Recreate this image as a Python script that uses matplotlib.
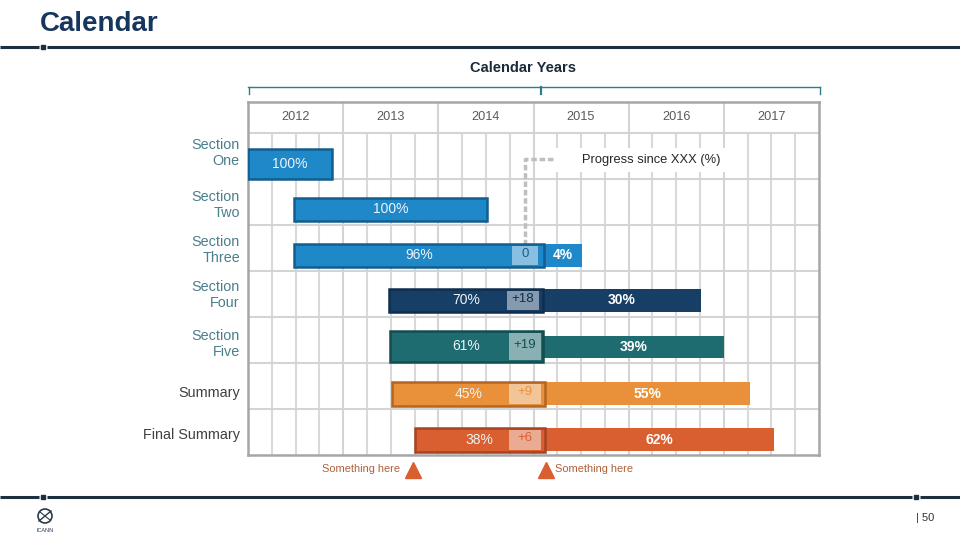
import matplotlib.pyplot as plt
from matplotlib.patches import Rectangle, Circle

plt.rcParams['font.family'] = ['Liberation Sans', 'DejaVu Sans']

# data
rows = ['Section\nOne', 'Section\nTwo', 'Section\nThree', 'Section\nFour',
        'Section\nFive', 'Summary', 'Final Summary']
years = [2012, 2013, 2014, 2015, 2016, 2017]
start = [2012.0, 2012.48, 2012.48, 2013.48, 2013.49, 2013.51, 2013.75]
done_end = [2012.88, 2014.51, 2015.11, 2015.10, 2015.10, 2015.12, 2015.12]
done_pct = [100, 100, 96, 70, 61, 45, 38]
gain = [None, None, 0, 18, 19, 9, 6]
gain_start = [None, None, 2014.77, 2014.72, 2014.74, 2014.74, 2014.74]
gain_end = [None, None, 2015.05, 2015.06, 2015.08, 2015.08, 2015.08]
rest_end = [None, None, 2015.51, 2016.76, 2017.00, 2017.27, 2017.53]
rest_pct = [None, None, 4, 30, 39, 55, 62]
milestones = [2013.73, 2015.13]
milestone_text = ['Something here', 'Something here']

fills = ['#1f88c9', '#1f88c9', '#1f88c9', '#173f66', '#1e6b70', '#e8913a', '#d95f31']
edges = ['#135e8e', '#135e8e', '#135e8e', '#0e2e4d', '#144c50', '#b5651f', '#a84322']
label_cols = ['#4a7f8c'] * 5 + ['#404040'] * 2

# layout (row units)
main_c = [0.67, 0.66, 0.66, 0.64, 0.64, 0.67, 0.67]
main_h = [0.65, 0.5, 0.5, 0.5, 0.67, 0.52, 0.52]
rest_c = [0, 0, 0.66, 0.64, 0.65, 0.67, 0.67]
rest_h = [0, 0, 0.5, 0.5, 0.48, 0.5, 0.5]
lab_off = [0.43, 0.57, 0.54, 0.52, 0.59, 0.65, 0.57]
head = 31 / 46

fig = plt.figure(figsize=(9.6, 5.4), dpi=100)

# slide furniture, pixel coords
bg = fig.add_axes([0, 0, 1, 1])
bg.set_xlim(0, 960)
bg.set_ylim(540, 0)
bg.axis('off')
bg.text(40, 24, 'Calendar', fontsize=20, fontweight='bold', color='#17365d', va='center')
line_c = '#1c2f3e'
for y, marks in [(47, [43]), (497, [43, 916])]:
    xs = [0] + sum([[m - 4, m + 4] for m in marks], []) + [960]
    for i in range(0, len(xs), 2):
        bg.plot([xs[i], xs[i + 1]], [y, y], color=line_c, lw=2.2, solid_capstyle='butt')
    for m in marks:
        bg.plot(m, y, 's', color=line_c, ms=3)
bg.text(523, 68, 'Calendar Years', fontsize=10.5, fontweight='bold', color='#1a2a3a',
        ha='center', va='center')
br = '#2f7d8c'
bg.plot([248, 820], [87, 87], color=br, lw=1)
for x in [248.5, 541, 819.5]:
    bg.plot([x, x], [87, 94], color=br, lw=1.6 if x == 541 else 1)
bg.text(916, 518, '| 50', fontsize=8, color='#333333', va='center')
bg.add_patch(Circle((45, 516), 7, fill=False, ec='#2a3b4c', lw=1.2))
bg.plot([39, 51], [521, 511], color='#2a3b4c', lw=1)
bg.plot([40, 50], [512, 520], color='#2a3b4c', lw=0.8)
bg.text(45, 531, 'ICANN', fontsize=4, color='#2a3b4c', ha='center', va='center')

# the calendar grid
ax = fig.add_axes([248 / 960, 1 - 455 / 540, 571 / 960, 353 / 540])
ax.set_xlim(2012, 2018)
ax.set_ylim(len(rows), -head)
ax.set_xticks([])
ax.set_yticks([])
for s in ax.spines.values():
    s.set_color('#a6a6a6')
    s.set_linewidth(1.8)

q = [y + k / 4 for y in years for k in range(1, 4)]
ax.vlines(q, 0, len(rows), color='#d9d9d9', lw=1.5, zorder=1)
ax.vlines(years[1:], -head, len(rows), color='#d4d4d4', lw=1.5, zorder=1)
ax.hlines(range(len(rows)), 2012, 2018, color='#d4d4d4', lw=1.5, zorder=1)
for yr in years:
    ax.text(yr + 0.5, -head / 2, str(yr), fontsize=9.2, color='#595959',
            ha='center', va='center')

for i, name in enumerate(rows):
    ax.text(2011.915, i + lab_off[i], name, fontsize=10.4, color=label_cols[i],
            ha='right', va='center', linespacing=1.15, clip_on=False)
    # finished part
    ax.barh(i + main_c[i], done_end[i] - start[i], left=start[i], height=main_h[i],
            color=fills[i], edgecolor=edges[i], linewidth=1.8, zorder=3)
    ax.text((start[i] + done_end[i]) / 2, i + main_c[i], f'{done_pct[i]}%',
            fontsize=10, color='#eef4f8', ha='center', va='center', zorder=6)
    if gain[i] is None:
        continue
    # progress since XXX
    ax.add_patch(Rectangle((gain_start[i], i + main_c[i] - main_h[i] / 2 + 0.04),
                           gain_end[i] - gain_start[i], main_h[i] - 0.08,
                           facecolor='white', alpha=0.48, lw=0, zorder=4))
    ax.text((gain_start[i] + gain_end[i]) / 2, i + main_c[i] - 0.04,
            '0' if gain[i] == 0 else f'+{gain[i]}', fontsize=9.5, color=edges[i] if i < 5 else fills[i],
            ha='center', va='center', zorder=6)
    # remaining part
    ax.barh(i + rest_c[i], rest_end[i] - done_end[i], left=done_end[i], height=rest_h[i],
            color=fills[i], lw=0, zorder=2.9)
    ax.text((done_end[i] + rest_end[i]) / 2, i + rest_c[i], f'{rest_pct[i]}%',
            fontsize=10, fontweight='bold', color='white', ha='center', va='center', zorder=6)

# callout for the light boxes
ax.add_patch(Rectangle((2015.20, 0.33), 1.83, 0.52, facecolor='white', lw=0, zorder=2))
ax.plot([2015.20, 2014.91, 2014.91], [0.57, 0.57, 2.43], color='#bfbfbf', lw=2.5,
        ls=(0, (1.6, 0.8)), zorder=2.5)
ax.text(2015.51, 0.59, 'Progress since XXX (%)', fontsize=9.3, color='#262626',
        va='center', zorder=5)

for m, t in zip(milestones, milestone_text):
    ax.plot(m, 7.33, '^', color='#d95f31', ms=11, clip_on=False)
    if m < 2015:
        ax.text(m - 0.13, 7.3, t, fontsize=7.9, color='#b0603a', ha='right',
                va='center', clip_on=False)
    else:
        ax.text(m + 0.1, 7.3, t, fontsize=7.9, color='#b0603a', ha='left',
                va='center', clip_on=False)

fig.savefig('out.png', dpi=100)
